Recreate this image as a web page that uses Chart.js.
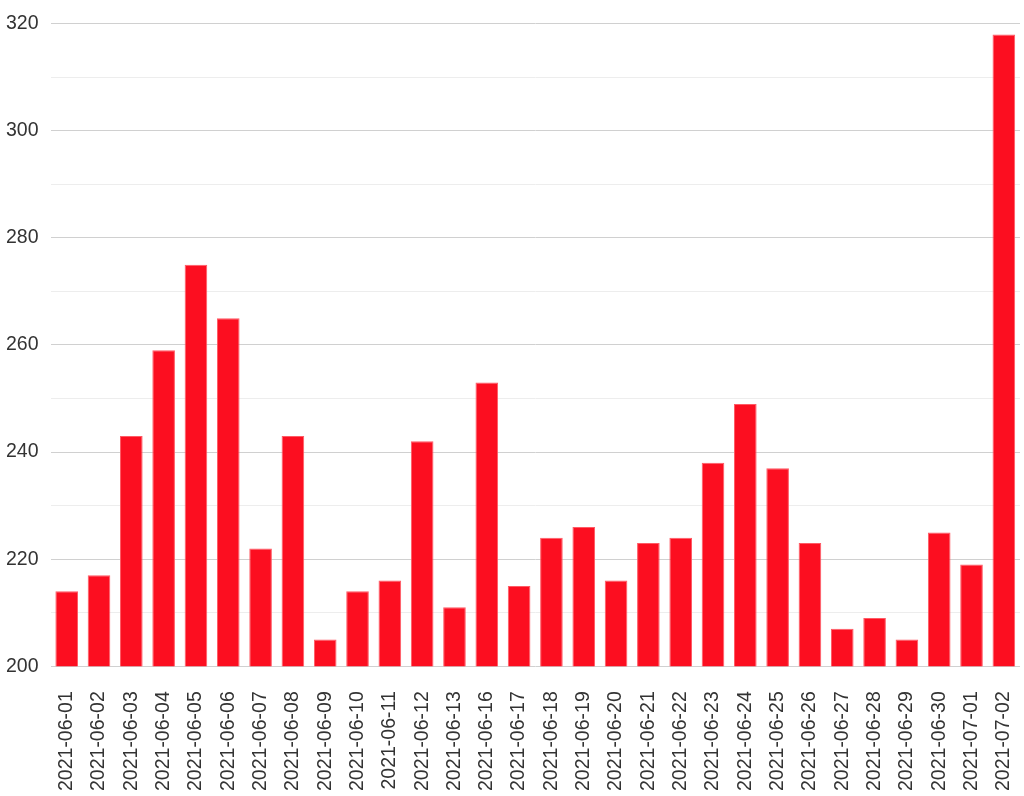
<!DOCTYPE html>
<html lang="en">
<head>
    <meta charset="UTF-8">
    <title>Daily chart</title>
    <script src="https://cdn.jsdelivr.net/npm/chart.js"></script>
    <style>
        body { margin:0; background:#fff; }
        #wrap { width:1024px; height:796px; }
    </style>
</head>
<body>
    <div id="wrap"><canvas id="myChart"></canvas></div>

    <script>
        // dates (06-14, 06-15 are not in the data)
        const dates = [
            '2021-06-01','2021-06-02','2021-06-03','2021-06-04','2021-06-05','2021-06-06',
            '2021-06-07','2021-06-08','2021-06-09','2021-06-10','2021-06-11','2021-06-12',
            '2021-06-13','2021-06-16','2021-06-17','2021-06-18','2021-06-19','2021-06-20',
            '2021-06-21','2021-06-22','2021-06-23','2021-06-24','2021-06-25','2021-06-26',
            '2021-06-27','2021-06-28','2021-06-29','2021-06-30','2021-07-01','2021-07-02'
        ];
        const counts = [
            214, 217, 243, 259, 275, 265,
            222, 243, 205, 214, 216, 242,
            211, 253, 215, 224, 226, 216,
            223, 224, 238, 249, 237, 223,
            207, 209, 205, 225, 219, 318
        ];
        const yMin = 200;
        const yMax = 320;
        const yStep = 10;

        const fontSpec = { family:'"Liberation Sans", Arial, sans-serif', size:19.5 };

        const ctx = document.querySelector('#myChart').getContext('2d');
        new Chart(ctx, {
            type : 'bar',
            data : {
                labels : dates,
                datasets : [{
                    data : counts,
                    backgroundColor : 'rgb(252,14,32)',
                    borderColor : 'rgb(255,90,100)',
                    borderWidth : 1,
                    categoryPercentage : 0.7,
                    barPercentage : 1.0
                }]
            },
            options : {
                responsive : true,
                maintainAspectRatio : false,
                animation : false,
                layout : { padding : { top : 22, right : 4, bottom : -12, left : -6 } },
                plugins : { legend : { display:false }, tooltip : { enabled:false } },
                scales : {
                    x : {
                        grid : { display:false },
                        border : { display:false },
                        // rotated labels: no extra side padding needed
                        afterFit : (s) => { s.paddingLeft = 0; s.paddingRight = 0; },
                        ticks : {
                            color:'#333',
                            font:fontSpec,
                            minRotation:90, maxRotation:90, autoSkip:false, padding:17
                        }
                    },
                    y : {
                        min : yMin,
                        max : yMax,
                        border : { display:false },
                        grid : {
                            drawTicks:false,
                            lineWidth:1,
                            color : (c) => (c.tick && c.tick.value % 20 === 0) ? '#d0d0d0' : '#ededed'
                        },
                        ticks : {
                            stepSize : yStep,
                            padding : 12,
                            color:'#333',
                            font:fontSpec,
                            callback : (v) => (v % 20 === 0) ? v : ''
                        }
                    }
                }
            }
        });
    </script>
</body>
</html>
